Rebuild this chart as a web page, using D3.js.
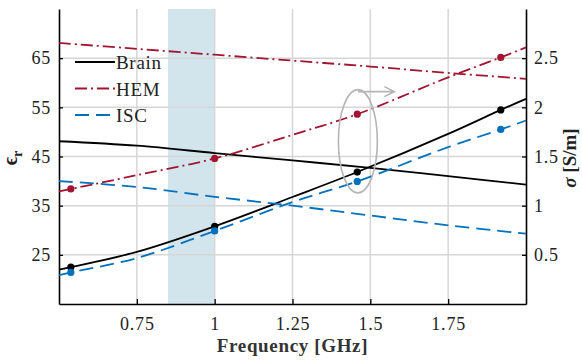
<!DOCTYPE html>
<html lang="en">
<head>
    <meta charset="UTF-8">
    <title>Permittivity and conductivity</title>
    <script src="https://cdn.jsdelivr.net/npm/d3@7"></script>
    <style>
        body { margin: 0; background: #fff; }
        svg { display: block; }
        svg text { font-family: 'Liberation Serif', Tinos, 'DejaVu Serif', serif; }
    </style>
</head>
<body>
    <div id="graphDiv"></div>

    <script>
        // data
        var epsFreq = [0.5, 0.75, 1.0, 1.25, 1.5, 1.75, 2.0]
        var brainEps = [48.1, 47.2, 45.7, 44.2, 42.7, 41.0, 39.3]
        var hemEps = [68.1, 66.9, 65.7, 64.5, 63.3, 62.0, 60.8]
        var iscEps = [40.0, 38.8, 36.8, 35.0, 33.0, 31.0, 29.3]

        var sigFreq = [0.5, 0.538, 0.75, 1.0, 1.25, 1.458, 1.75, 1.919, 2.0]
        var brainSig = [0.35, 0.375, 0.53, 0.79, 1.088, 1.342, 1.73, 1.974, 2.086]
        var hemSig = [1.146, 1.17, 1.31, 1.48, 1.72, 1.93, 2.305, 2.508, 2.61]
        var iscSig = [0.294, 0.321, 0.467, 0.743, 1.037, 1.247, 1.595, 1.775, 1.866]

        // marker positions (resonances)
        var markFreq = [0.538, 1.0, 1.458, 1.919]
        var brainMark = [0.375, 0.79, 1.342, 1.974]
        var hemMark = [1.17, 1.48, 1.93, 2.508]
        var iscMark = [0.321, 0.743, 1.247, 1.775]

        var bandFreq = [0.85, 1.0]

        var xTicks = [0.75, 1, 1.25, 1.5, 1.75]
        var epsTicks = [25, 35, 45, 55, 65]
        var sigTicks = [0.5, 1, 1.5, 2, 2.5]

        var seriesNames = ['Brain', 'HEM', 'ISC']
        var seriesColors = ['#000000', '#a2142f', '#0072bd']
        var seriesDash = [null, '12,4,2,4', '14,7']

        var width = 582
        var height = 361
        var padL = 59, padR = 526, padT = 9, padB = 304

        var svg = d3.select('#graphDiv')
                    .append('svg')
                    .attr('width', width)
                    .attr('height', height)

        var x = d3.scaleLinear().domain([0.5, 2.0]).range([padL, padR])
        var yEps = d3.scaleLinear().domain([15, 75]).range([padB, padT])
        var ySig = d3.scaleLinear().domain([0, 3]).range([padB, padT])

        // shaded band
        svg.append('rect')
            .attr('x', x(bandFreq[0]))
            .attr('y', padT)
            .attr('width', x(bandFreq[1]) - x(bandFreq[0]))
            .attr('height', padB - padT)
            .attr('fill', '#d3e5ec')

        // grid
        var grid = svg.append('g').attr('stroke', '#d6d6d6').attr('stroke-width', 1.5)
        grid.selectAll('.gx').data(xTicks).join('line')
            .attr('x1', d => x(d)).attr('x2', d => x(d))
            .attr('y1', padT).attr('y2', padB)
        grid.selectAll('.gy').data(epsTicks).join('line')
            .attr('x1', padL).attr('x2', padR)
            .attr('y1', d => yEps(d)).attr('y2', d => yEps(d))

        // axes
        var fmt = d => String(d)
        var xAxis = d3.axisBottom(x).tickValues(xTicks).tickFormat(fmt).tickSizeInner(-5).tickSizeOuter(0).tickPadding(13)
        var gx = svg.append('g').attr('transform', `translate(0,${padB})`).call(xAxis)

        var yAxisL = d3.axisLeft(yEps).tickValues(epsTicks).tickFormat(fmt).tickSizeInner(-4).tickSizeOuter(0).tickPadding(8)
        var gl = svg.append('g').attr('transform', `translate(${padL},0)`).call(yAxisL)

        var yAxisR = d3.axisRight(ySig).tickValues(sigTicks).tickFormat(fmt).tickSizeInner(-4).tickSizeOuter(0).tickPadding(8)
        var gr = svg.append('g').attr('transform', `translate(${padR},0)`).call(yAxisR)

        ;[gx, gl, gr].forEach(g => {
            g.attr('font-family', null)
            g.select('.domain').attr('stroke', '#000').attr('stroke-width', 1.6)
            g.selectAll('.tick line').attr('stroke', '#000').attr('stroke-width', 1.3)
            g.selectAll('.tick text')
                .attr('font-size', 18)
                .attr('letter-spacing', 0.8)
                .attr('fill', '#222')
        })

        // axis titles
        svg.append('text')
            .attr('x', (padL + padR) / 2)
            .attr('y', 352)
            .attr('text-anchor', 'middle')
            .attr('font-size', 19)
            .attr('letter-spacing', 0.65)
            .attr('font-weight', 'bold')
            .attr('fill', '#333')
            .text('Frequency [GHz]')

        var epsLabel = svg.append('text')
            .attr('transform', 'translate(17,158) rotate(-90)')
            .attr('text-anchor', 'middle')
            .attr('font-size', 20)
            .attr('font-weight', 'bold')
            .attr('fill', '#222')
        epsLabel.append('tspan').text('\u03f5')
        epsLabel.append('tspan').attr('dy', 5).attr('font-size', 14).text('r')

        var sigLabel = svg.append('text')
            .attr('transform', 'translate(576,158) rotate(-90)')
            .attr('text-anchor', 'middle')
            .attr('font-size', 19)
            .attr('font-weight', 'bold')
            .attr('fill', '#222')
        sigLabel.append('tspan').attr('font-style', 'italic').text('\u03c3')
        sigLabel.append('tspan').text(' [S/m]')

        // curves
        var epsData = [brainEps, hemEps, iscEps]
        var sigData = [brainSig, hemSig, iscSig]
        var markData = [brainMark, hemMark, iscMark]

        var smooth = d3.curveCatmullRom.alpha(0.5)
        var epsLine = d3.line().x((d, i) => x(epsFreq[i])).y(d => yEps(d)).curve(smooth)
        var sigLine = d3.line().x((d, i) => x(sigFreq[i])).y(d => ySig(d)).curve(smooth)

        var lines = svg.append('g').attr('fill', 'none').attr('stroke-width', 1.8)
        seriesNames.forEach((name, k) => {
            lines.append('path')
                .attr('d', epsLine(epsData[k]))
                .attr('stroke', seriesColors[k])
                .attr('stroke-dasharray', seriesDash[k])
            lines.append('path')
                .attr('d', sigLine(sigData[k]))
                .attr('stroke', seriesColors[k])
                .attr('stroke-dasharray', seriesDash[k])
            svg.append('g').selectAll('circle')
                .data(markData[k])
                .join('circle')
                .attr('cx', (d, i) => x(markFreq[i]))
                .attr('cy', d => ySig(d))
                .attr('r', 3.6)
                .attr('fill', seriesColors[k])
        })

        // ellipse + arrow annotation
        var ellCx = x(1.46), ellCy = yEps(48.1)
        var ellRx = x(1.5225) - x(1.46), ellRy = yEps(48.1) - yEps(58.6)
        svg.append('ellipse')
            .attr('cx', ellCx).attr('cy', ellCy)
            .attr('rx', ellRx).attr('ry', ellRy)
            .attr('fill', 'none')
            .attr('stroke', '#b5b5b5')
            .attr('stroke-width', 1.6)
        var tipX = x(1.577), arrY = ellCy - ellRy + 2
        svg.append('path')
            .attr('d', `M${ellCx},${arrY}H${tipX}M${tipX - 10},${arrY - 5}L${tipX},${arrY}L${tipX - 10},${arrY + 5}`)
            .attr('fill', 'none')
            .attr('stroke', '#b5b5b5')
            .attr('stroke-width', 1.6)

        // legend
        var legend = svg.append('g')
        seriesNames.forEach((name, k) => {
            var ly = 62 + k * 26.5
            legend.append('line')
                .attr('x1', 75).attr('x2', 115)
                .attr('y1', ly).attr('y2', ly)
                .attr('stroke', seriesColors[k])
                .attr('stroke-width', 1.8)
                .attr('stroke-dasharray', seriesDash[k])
            legend.append('text')
                .attr('x', 116)
                .attr('y', ly + 7)
                .attr('font-size', 19)
                .attr('letter-spacing', 0.7)
                .attr('fill', '#222')
                .text(name)
        })
    </script>
</body>
</html>
